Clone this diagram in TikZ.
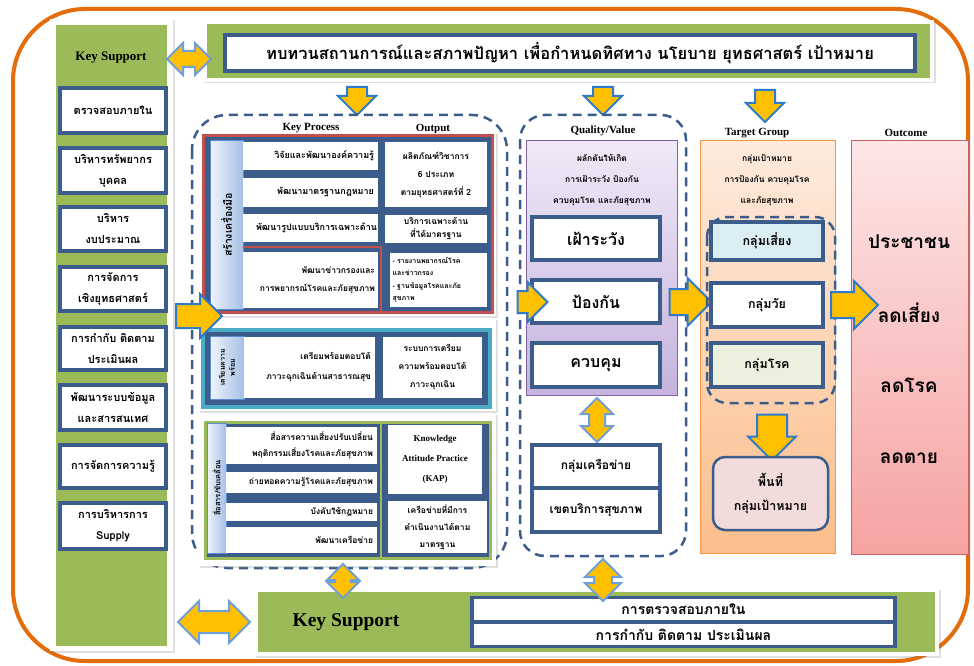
\documentclass[tikz,border=0pt]{standalone}
\usepackage{fontspec}
\setmainfont{Liberation Serif}
\newfontfamily\thai[Script=Thai]{Loma}
\usetikzlibrary{shapes.arrows,shadows}
\definecolor{dblue}{HTML}{3C5C8C}
\definecolor{kgreen}{HTML}{9BBB59}
\definecolor{frame}{HTML}{E46C0A}
\definecolor{ayel}{HTML}{FFC000}
\definecolor{ablue}{HTML}{2F7BC9}
\definecolor{dablue}{HTML}{6E9FD8}
\definecolor{kred}{HTML}{C0504D}
\definecolor{kcyan}{HTML}{4BACC6}
\definecolor{kpurp}{HTML}{8064A2}
\definecolor{korange}{HTML}{F79646}
\definecolor{lbarb}{HTML}{5B8BD0}
\definecolor{riskfill}{HTML}{DAEEF3}
\definecolor{disfill}{HTML}{EBF1DE}
\definecolor{areafill}{HTML}{F2DCDB}
\definecolor{ptop}{HTML}{EFE9F7}
\definecolor{pbot}{HTML}{C6B3DE}
\definecolor{otop}{HTML}{FDEBDD}
\definecolor{obot}{HTML}{FBBE8C}
\definecolor{rtop}{HTML}{FDE6E6}
\definecolor{rbot}{HTML}{F6A2A2}
\newcommand\tf[2]{\thai\bfseries\fontsize{#1}{#2}\selectfont}
\newcommand\R[6][]{\node[#1, minimum width={(#5)-(#3)}, minimum height={(#6)-(#4)}] (#2) at ({((#3)+(#5))/2},{((#4)+(#6))/2})}
% block arrows: name, rotation, length, shaft, head extend, position
\newcommand\SA[6]{\node[sarr, rotate=#2, minimum height=#3pt, single arrow head extend=#5pt] (#1) at (#6) {\rule{0pt}{#4pt}};}
\newcommand\DA[6]{\node[darr, rotate=#2, minimum height=#3pt, double arrow head extend=#5pt] (#1) at (#6) {\rule{0pt}{#4pt}};}
\tikzset{
  lbox/.style={draw=dblue, line width=3.5pt, fill=white, inner sep=0pt, align=center, font={\tf{11}{21}}},
  wbox/.style={fill=white, inner sep=0pt, align=center, font={\tf{9}{14}}},
  qbox/.style={draw=dblue, line width=3.5pt, fill=white, inner sep=0pt, align=center, font={\tf{16}{18}}},
  lbar/.style={draw=lbarb, line width=1pt, left color=white!70!lbarb!30, right color=lbarb!55, inner sep=0pt},
  hdr/.style={font=\bfseries\fontsize{11}{13}\selectfont, inner sep=0pt},
  dreg/.style={draw=dblue, line width=2.5pt, dash pattern=on 9pt off 6pt},
  panel/.style={fill=white, drop shadow={opacity=0.25, shadow xshift=1.5pt, shadow yshift=-1.5pt}},
  sarr/.style={single arrow, draw=ablue, fill=ayel, line width=2pt, inner sep=0pt},
  darr/.style={double arrow, draw=dablue, fill=ayel, line width=2pt, inner sep=0pt},
}
\begin{document}
\begin{tikzpicture}[x=1pt,y=-1pt]
\useasboundingbox (0,0) rectangle (974,666);
\fill[white] (0,0) rectangle (974,666);
% outer frame
\draw[frame, line width=4pt, rounded corners=72pt] (13,9) rectangle (968,661);

% left column
\path[panel] (50,19) rectangle (173,651);
\fill[kgreen] (56,25) rectangle (167,646);
\node[hdr, font=\bfseries\fontsize{13}{15}\selectfont] (ks) at (111,58) {Key Support};
\R[lbox]{l1}{60}{88}{166}{133}{ตรวจสอบภายใน};
\R[lbox]{l2}{60}{148}{166}{193}{บริหารทรัพยากร\\บุคคล};
\R[lbox]{l3}{60}{207}{166}{251}{บริหาร\\งบประมาณ};
\R[lbox]{l4}{60}{267}{166}{311}{การจัดการ\\เชิงยุทธศาสตร์};
\R[lbox]{l5}{60}{327}{166}{370}{การกำกับ ติดตาม\\ประเมินผล};
\R[lbox]{l6}{60}{385}{166}{430}{พัฒนาระบบข้อมูล\\และสารสนเทศ};
\R[lbox]{l7}{60}{445}{166}{488}{การจัดการความรู้};
\R[lbox]{l8}{60}{503}{166}{549}{การบริหารการ\\Supply};

% top banner
\path[panel] (202,20) rectangle (934,82);
\fill[kgreen] (207,24) rectangle (930,78);
\R[lbox, line width=4pt, font={\tf{16.5}{19}}]{ban}{225}{35}{915}{71}{ทบทวนสถานการณ์และสภาพปัญหา เพื่อกำหนดทิศทาง นโยบาย ยุทธศาสตร์ เป้าหมาย};
\DA{a0}{0}{44}{14}{8}{189,59}
\SA{d1}{-90}{28}{18}{9}{357,96}
\SA{d2}{-90}{28}{18}{9}{603,96}
\SA{d3}{-90}{32}{18}{9}{765,101}

% key process region
\draw[dreg, rounded corners=35pt] (192,115) rectangle (507,568);
\node[hdr] (kph) at (311,128) {Key Process};
\node[hdr] (outh) at (433,129) {Output};

% group 1
\path[panel] (198,133) rectangle (496,316);
\draw[kred, line width=3pt, fill=dblue] (203,136) rectangle (492,312);
\R[lbar]{g1l}{210}{141}{243}{309}{};
\node[rotate=90, font={\tf{10.5}{12}}] (g1t) at (g1l) {สร้างเครื่องมือ};
\R[wbox, align=right, text width=127pt]{kp1}{243}{142}{378}{170}{วิจัยและพัฒนาองค์ความรู้};
\R[wbox, align=right, text width=127pt]{kp2}{243}{178}{378}{207}{พัฒนามาตรฐานกฎหมาย};
\R[wbox, align=right, text width=133pt]{kp3}{243}{214}{378}{242}{พัฒนารูปแบบบริการเฉพาะด้าน};
\draw[kred, line width=2pt] (243,247) -- (381,247) -- (381,312);
\R[wbox, align=right, text width=129pt, font={\tf{8.5}{18}}]{kp4}{243}{252}{378}{308}{พัฒนาข่าวกรองและ\\การพยากรณ์โรคและภัยสุขภาพ};
\R[wbox, font={\tf{8.5}{18}}]{op1}{385}{142}{487}{207}{ผลิตภัณฑ์วิชาการ\\6 ประเภท\\ตามยุทธศาสตร์ที่ 2};
\R[wbox, font={\tf{8.5}{13}}]{op2}{385}{215}{487}{243}{บริการเฉพาะด้าน\\ที่ได้มาตรฐาน};
\R[wbox, align=left, text width=92pt, font={\tf{7}{12.5}}]{op3}{390}{253}{487}{307}{- รายงานพยากรณ์โรค\\และข่าวกรอง\\- ฐานข้อมูลโรคและภัย\\สุขภาพ};

% group 2
\path[panel] (198,318) rectangle (496,411);
\draw[kcyan, line width=3.5pt, fill=dblue] (203,330) rectangle (490,407);
\R[lbar]{g2l}{210}{336}{244}{399}{};
\node[rotate=90, align=center, font={\tf{7}{10}}] (g2t) at (g2l) {เตรียมความ\\พร้อม};
\R[wbox, align=right, text width=123pt, font={\tf{8.5}{20}}]{pr1}{244}{337}{375}{398}{เตรียมพร้อมตอบโต้\\ภาวะฉุกเฉินด้านสาธารณสุข};
\R[wbox, font={\tf{8.5}{18}}]{po1}{383}{337}{482}{398}{ระบบการเตรียม\\ความพร้อมตอบโต้\\ภาวะฉุกเฉิน};

% group 3
\path[panel] (198,413) rectangle (496,566);
\draw[kgreen, line width=3pt, fill=dblue] (205,422) rectangle (490,558);
\R[lbar]{g3l}{207}{423}{226}{553}{};
\node[rotate=90, font={\tf{7.5}{9}}] (g3t) at (g3l) {สื่อสาร/ขับเคลื่อน};
\R[wbox, align=right, text width=143pt, font={\tf{8.5}{16}}]{cm1}{226}{427}{377}{464}{สื่อสารความเสี่ยงปรับเปลี่ยน\\พฤติกรรมเสี่ยงโรคและภัยสุขภาพ};
\R[wbox, align=right, text width=143pt, font={\tf{8.5}{11}}]{cm2}{226}{472}{377}{493}{ถ่ายทอดความรู้โรคและภัยสุขภาพ};
\R[wbox, align=right, text width=143pt, font={\tf{8.5}{11}}]{cm3}{226}{503}{377}{521}{บังคับใช้กฎหมาย};
\R[wbox, align=right, text width=143pt, font={\tf{8.5}{11}}]{cm4}{226}{527}{377}{553}{พัฒนาเครือข่าย};
\draw[kgreen, line width=1.5pt] (381,422) -- (381,558);
\R[wbox, font=\bfseries\fontsize{9}{20}\selectfont]{co1}{388}{425}{482}{494}{Knowledge\\Attitude Practice\\(KAP)};
\R[wbox, font={\tf{8.5}{17}}]{co2}{388}{501}{487}{553}{เครือข่ายที่มีการ\\ดำเนินงานได้ตาม\\มาตรฐาน};

\SA{a1}{0}{46}{22}{10}{193,316}

% quality / value
\draw[dreg, rounded corners=25pt] (520,115) rectangle (686,556);
\node[hdr] (qvh) at (603,131) {Quality/Value};
\R[draw=kpurp, line width=1pt, top color=ptop, bottom color=pbot, inner sep=0pt]{qv}{526}{141}{677}{395}{};
\node[align=center, font={\tf{8.5}{21}}] (qvt) at (602,180) {ผลักดันให้เกิด\\การเฝ้าระวัง ป้องกัน\\ควบคุมโรค และภัยสุขภาพ};
\R[qbox]{q1}{532}{217}{660}{260}{เฝ้าระวัง};
\R[qbox]{q2}{532}{280}{660}{323}{ป้องกัน};
\R[qbox]{q3}{532}{343}{660}{387}{ควบคุม};
\SA{a2}{0}{30}{20}{9}{527,302}
\DA{qd}{90}{44}{14}{8}{597,420}
\R[qbox, font={\tf{12}{15}}]{nw1}{532}{445}{660}{488}{กลุ่มเครือข่าย};
\R[qbox, font={\tf{12}{15}}]{nw2}{532}{488}{660}{532}{เขตบริการสุขภาพ};

% target group
\node[hdr] (tgh) at (757,133) {Target Group};
\R[draw=korange, line width=1pt, top color=otop, bottom color=obot, inner sep=0pt]{tg}{700}{141}{835}{553}{};
\SA{a3}{0}{42}{24}{11}{684,302}
\node[align=center, font={\tf{8.5}{21}}] (tgt) at (767,180) {กลุ่มเป้าหมาย\\การป้องกัน ควบคุมโรค\\และภัยสุขภาพ};
\draw[dreg, rounded corners=20pt] (707,217) rectangle (835,403);
\R[qbox, fill=riskfill, font={\tf{12.5}{15}}]{t1}{711}{222}{823}{260}{กลุ่มเสี่ยง};
\R[qbox, font={\tf{12.5}{15}}]{t2}{711}{283}{823}{327}{กลุ่มวัย};
\R[qbox, fill=disfill, font={\tf{12.5}{15}}]{t3}{711}{343}{823}{387}{กลุ่มโรค};
\SA{td}{-90}{46}{28}{9}{772,430}
\R[draw=dblue, line width=2.5pt, fill=areafill, rounded corners=12pt, align=center, inner sep=0pt, font={\tf{12.5}{24}}]{ar}{713}{457}{828}{530}{พื้นที่\\กลุ่มเป้าหมาย};

% outcome
\node[hdr] (och) at (906,133) {Outcome};
\R[draw=kred!90, line width=1pt, top color=rtop, bottom color=rbot, inner sep=0pt]{oc}{851}{141}{968}{554}{};
\SA{a4}{0}{47}{24}{11}{848,305}
\node[font={\tf{19}{22}}] (o1) at (909,242) {ประชาชน};
\node[font={\tf{19}{22}}] (o2) at (909,313) {ลดเสี่ยง};
\node[font={\tf{19}{22}}] (o3) at (909,385) {ลดโรค};
\node[font={\tf{19}{22}}] (o4) at (909,458) {ลดตาย};

% bottom
\path[panel] (254,588) rectangle (939,656);
\fill[kgreen] (258,592) rectangle (935,652);
\node[hdr, font=\bfseries\fontsize{19.5}{22}\selectfont] (bks) at (346,622) {Key Support};
\fill[dblue] (470,596) rectangle (897,648);
\R[wbox, font={\tf{14}{15}}]{bb1}{474}{599}{893}{620}{การตรวจสอบภายใน};
\R[wbox, font={\tf{14}{15}}]{bb2}{474}{624}{893}{645}{การกำกับ ติดตาม ประเมินผล};
\DA{b1}{90}{34}{14}{8}{343,581}
\DA{b2}{90}{42}{16}{9}{603,580}
\DA{b3}{0}{72}{20}{10}{214,622}
\end{tikzpicture}
\end{document}
